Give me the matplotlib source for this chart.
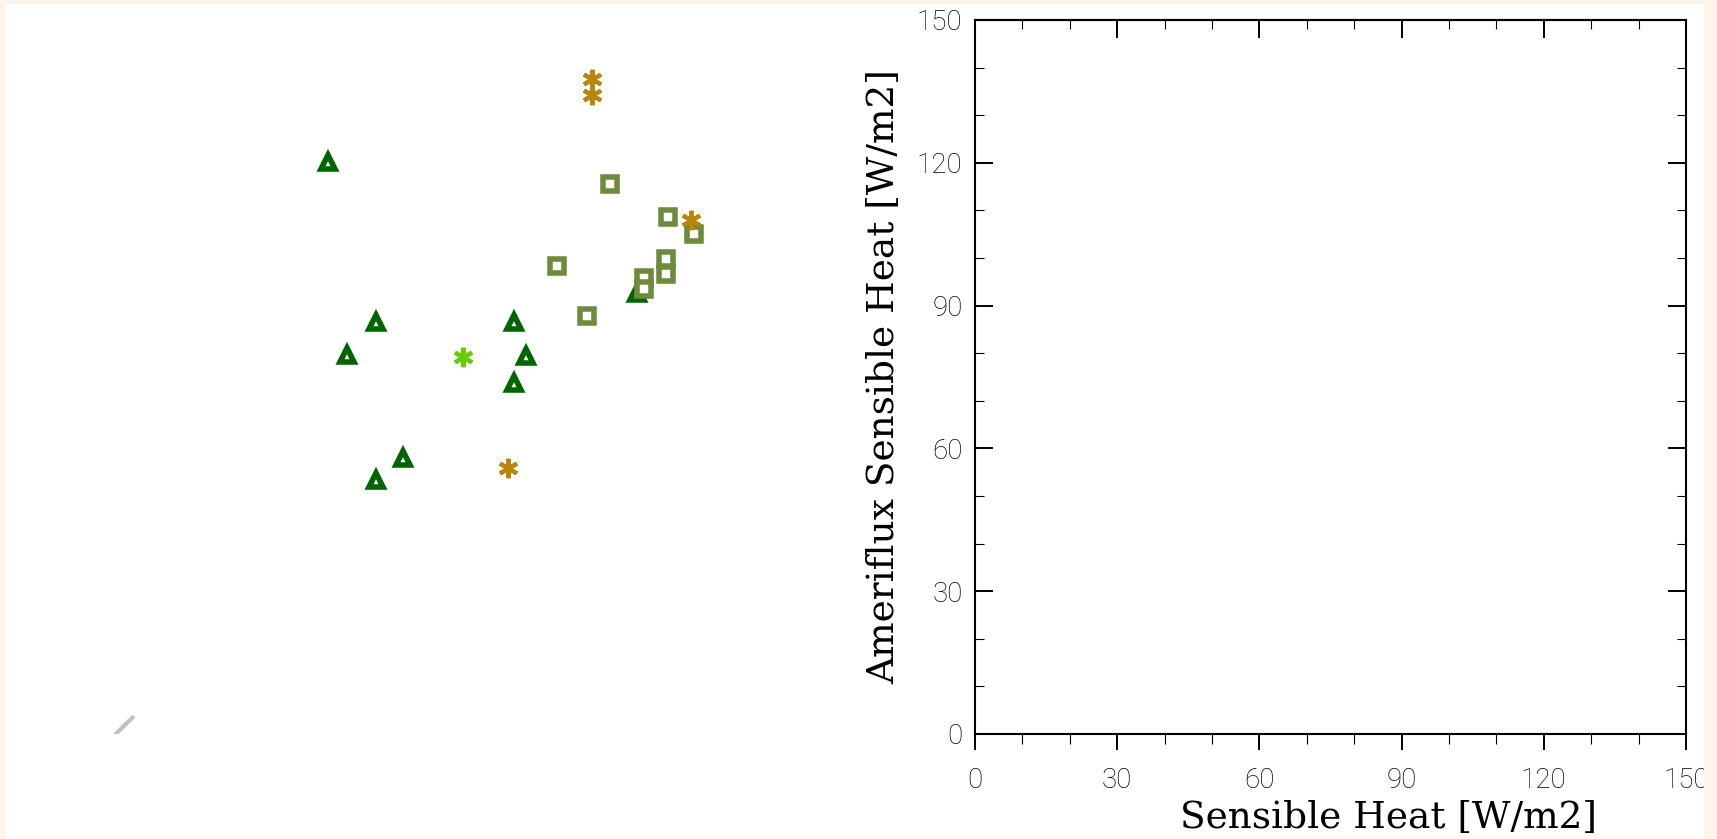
import matplotlib
matplotlib.use('Agg')
from matplotlib import pyplot as plt
from matplotlib.patches import Rectangle
from matplotlib.ticker import MultipleLocator
from matplotlib.font_manager import FontProperties

# scatter groups (W/m2)
tri_x = [46.0, 56.1, 50.0, 85.2, 87.8, 85.2, 61.8, 56.1, 111.2]
tri_y = [120.2, 86.6, 79.6, 86.6, 79.4, 73.7, 58.0, 53.4, 92.6]

sq_x = [105.5, 117.7, 123.2, 94.3, 117.3, 117.3, 112.7, 112.7, 100.6]
sq_y = [115.6, 108.7, 105.0, 98.3, 99.8, 96.6, 95.9, 93.4, 87.8]

gold_x = [101.7, 101.7, 122.6, 84.0]
gold_y = [137.6, 134.3, 108.0, 55.9]

lime_x = [74.5]
lime_y = [79.1]

line_x = [1.2, 4.8]
line_y = [0.0, 3.5]

ticks = [0, 30, 60, 90, 120, 150]
ylabel = 'Ameriflux Sensible Heat [W/m2]'
xlabel = 'Sensible Heat [W/m2]'

W, H = 1717, 839
fig = plt.figure(figsize=(W / 100, H / 100), dpi=100, facecolor='white')

def box(x0, x1, y0, y1):
    return [x0 / W, 1 - y1 / H, (x1 - x0) / W, (y1 - y0) / H]

# left panel: bare scatter
axl = fig.add_axes(box(110, 821, 20, 734))
axl.set_xlim(0, 150)
axl.set_ylim(0, 150)
axl.axis('off')
axl.plot(line_x, line_y, color='#c0c0c0', lw=3, solid_capstyle='round')
axl.plot(tri_x, tri_y, ls='none', marker='^', ms=10, mew=4,
         mec='#006400', mfc='white')
axl.plot(sq_x, sq_y, ls='none', marker='s', ms=9.5, mew=4,
         mec='#6e8b3d', mfc='white')
axl.plot(gold_x, gold_y, ls='none', marker=(6, 2, 0), ms=14, mew=3,
         mec='#b8860b', mfc='#b8860b')
axl.plot(lime_x, lime_y, ls='none', marker=(6, 2, 0), ms=14, mew=3,
         mec='#66cd00', mfc='#66cd00')

# right panel: empty axes
ax = fig.add_axes(box(975, 1686, 20, 734))
ax.set_xlim(0, 150)
ax.set_ylim(0, 150)
ax.set_facecolor('none')
for s in ax.spines.values():
    s.set_linewidth(1.5)
ax.set_xticks(ticks)
ax.set_yticks(ticks)
ax.xaxis.set_minor_locator(MultipleLocator(10))
ax.yaxis.set_minor_locator(MultipleLocator(10))
tickfont = FontProperties(family='Roboto', weight='light', size=20)
ax.tick_params(axis='y', which='both', direction='in', left=True, right=True, pad=9)
ax.tick_params(axis='x', which='both', direction='out', top=False, pad=12)
ax.tick_params(which='major', length=13, width=1.4)
ax.tick_params(which='minor', length=6.5, width=0.8)
ax.tick_params(axis='x', which='major', length=11.5)
ax.tick_params(axis='x', which='minor', length=7)
for lab in ax.get_xticklabels() + ax.get_yticklabels():
    lab.set_fontproperties(tickfont)
    lab.set_color('black')

top = ax.secondary_xaxis('top')
top.set_xticks(ticks)
top.xaxis.set_minor_locator(MultipleLocator(10))
top.tick_params(which='both', direction='in', labeltop=False)
top.tick_params(which='major', length=13, width=1.4)
top.tick_params(which='minor', length=6.5, width=0.8)
top.spines['top'].set_linewidth(1.5)

ax.set_ylabel(ylabel, family='DejaVu Serif', size=27)
ax.yaxis.set_label_coords(-0.128, 0.5)
ax.yaxis.label.set_verticalalignment('center')
ax.set_xlabel(xlabel, family='DejaVu Serif', size=27)
ax.xaxis.set_label_coords(0.581, -0.118)
ax.xaxis.label.set_verticalalignment('center')

# cream frame strips
cream = '#fdf4ea'
for r in [(0, 0, 6 / W, 1), (0, 1 - 4 / H, 1, 4 / H), (1704 / W, 0, 1 - 1704 / W, 1)]:
    fig.add_artist(Rectangle(r[:2], r[2], r[3], transform=fig.transFigure,
                             facecolor=cream, edgecolor='none', zorder=10))

fig.savefig('out.png', dpi=100, facecolor=fig.get_facecolor())
